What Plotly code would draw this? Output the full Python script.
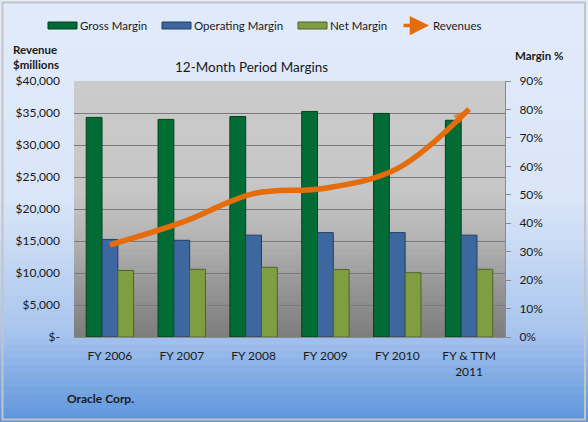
import plotly.graph_objects as go

categories = ["FY 2006", "FY 2007", "FY 2008", "FY 2009", "FY 2010", "FY & TTM<br>2011"]
gross_margin = [0.772, 0.765, 0.775, 0.793, 0.786, 0.762]
operating_margin = [0.343, 0.340, 0.358, 0.367, 0.367, 0.358]
net_margin = [0.234, 0.238, 0.245, 0.237, 0.226, 0.238]
revenues = [14380, 17900, 22400, 23250, 26300, 35600]

rev_ticks = [0, 5000, 10000, 15000, 20000, 25000, 30000, 35000, 40000]
rev_ticktext = ["$-", "$5,000", "$10,000", "$15,000", "$20,000", "$25,000", "$30,000", "$35,000", "$40,000"]
pct_ticks = [0, 0.1, 0.2, 0.3, 0.4, 0.5, 0.6, 0.7, 0.8, 0.9]

W, H = 588, 422
L, R, T, B = 74, 83, 81, 85
PW, PH = W - L - R, H - T - B

def px(x):
    return (x - L) / PW

def py(y):
    return (H - B - y) / PH

FONT = "Lato"
TXT = "#1a1a1a"

def hex2rgb(h):
    h = h.lstrip("#")
    return [int(h[i:i + 2], 16) for i in (0, 2, 4)]

def grad(stops, y0, y1, n):
    out = []
    for i in range(n):
        ya = y0 + (y1 - y0) * i / n
        yb = y0 + (y1 - y0) * (i + 1) / n
        ym = (ya + yb) / 2
        c = hex2rgb(stops[-1][1])
        for j in range(len(stops) - 1):
            if stops[j][0] <= ym <= stops[j + 1][0]:
                t = (ym - stops[j][0]) / (stops[j + 1][0] - stops[j][0])
                a, b = hex2rgb(stops[j][1]), hex2rgb(stops[j + 1][1])
                c = [round(a[k] + (b[k] - a[k]) * t) for k in range(3)]
                break
        out.append((ya, yb, "rgb(%d,%d,%d)" % tuple(c)))
    return out

shapes = []
for ya, yb, col in grad([(0, "#e2ebfb"), (200, "#d9e5f8"), (260, "#c3d7f3"),
                          (330, "#a9c5ee"), (422, "#5d94dc")], 0, 422, 60):
    shapes.append(dict(type="rect", xref="paper", yref="paper", x0=px(0), x1=px(588),
                       y0=py(yb) - 0.002, y1=py(ya), fillcolor=col, line_width=0, layer="below"))
for ya, yb, col in grad([(81, "#cbcbcb"), (190, "#c6c6c6"), (240, "#b3b3b3"),
                          (290, "#949494"), (337, "#7d7d7d")], 81, 337, 50):
    shapes.append(dict(type="rect", xref="paper", yref="paper", x0=0, x1=1,
                       y0=py(yb) - 0.002, y1=py(ya), fillcolor=col, line_width=0, layer="below"))
shapes.append(dict(type="rect", xref="paper", yref="paper", x0=px(2.5), x1=px(585),
                   y0=py(419.5), y1=py(2.5), line=dict(color="#c4c4c4", width=2), layer="above"))

colors = ["#036b34", "#3c679f", "#7f9d41"]
edges = ["#02431f", "#243f63", "#4f6328"]
names = ["Gross Margin", "Operating Margin", "Net Margin"]

annotations = []
leg_x = [48, 162, 298]
for xs, col, ed, nm in zip(leg_x, colors, edges, names):
    shapes.append(dict(type="rect", xref="paper", yref="paper", x0=px(xs), x1=px(xs + 29),
                       y0=py(29), y1=py(22), fillcolor=col, line=dict(color=ed, width=1)))
    annotations.append(dict(text=nm, xref="paper", yref="paper", x=px(xs + 30), y=py(25.5),
                            xanchor="left", yanchor="middle", showarrow=False,
                            font=dict(family=FONT, size=11.5, color=TXT)))
annotations.append(dict(text="", xref="paper", yref="paper", x=px(429), y=py(25.5),
                        ax=-27, ay=0, axref="pixel", ayref="pixel",
                        showarrow=True, arrowhead=2, arrowsize=1.1, arrowwidth=3.5,
                        arrowcolor="#e46c0a"))
annotations.append(dict(text="Revenues", xref="paper", yref="paper", x=px(431), y=py(25.5),
                        xanchor="left", yanchor="middle", showarrow=False,
                        font=dict(family=FONT, size=11.5, color=TXT)))
annotations += [
    dict(text="<b>Revenue<br>$millions</b>", xref="paper", yref="paper", x=px(11), y=py(73),
         xanchor="left", yanchor="bottom", align="left", showarrow=False,
         font=dict(family=FONT, size=11.5, color=TXT)),
    dict(text="<b>Margin %</b>", xref="paper", yref="paper", x=px(513), y=py(55),
         xanchor="left", yanchor="middle", showarrow=False,
         font=dict(family=FONT, size=11.5, color=TXT)),
    dict(text="12-Month Period Margins", xref="paper", yref="paper", x=px(251), y=py(67),
         xanchor="center", yanchor="middle", showarrow=False,
         font=dict(family=FONT, size=13.5, color=TXT)),
    dict(text="<b>Oracle Corp.</b>", xref="paper", yref="paper", x=px(65), y=py(398),
         xanchor="left", yanchor="middle", showarrow=False,
         font=dict(family=FONT, size=12, color=TXT)),
]

fig = go.Figure()
for vals, col, ed, nm in zip([gross_margin, operating_margin, net_margin], colors, edges, names):
    fig.add_trace(go.Bar(x=categories, y=vals, name=nm, yaxis="y",
                         marker=dict(color=col, line=dict(color=ed, width=1)),
                         showlegend=False))

fig.add_trace(go.Scatter(x=categories, y=revenues, name="Revenues", yaxis="y2",
                         mode="lines+markers",
                         line=dict(color="#e46c0a", width=5.5, shape="spline", smoothing=1.0),
                         marker=dict(symbol="arrow", angleref="previous",
                                     size=[0] * (len(revenues) - 1) + [17],
                                     color="#e46c0a", line=dict(width=0)),
                         showlegend=False))

fig.update_layout(
    width=W, height=H,
    margin=dict(l=L, r=R, t=T, b=B),
    paper_bgcolor="#dfe9fa",
    plot_bgcolor="rgba(0,0,0,0)",
    barmode="group", bargap=0.34, bargroupgap=0,
    showlegend=False,
    font=dict(family=FONT, size=12, color=TXT),
    shapes=shapes,
    annotations=annotations,
    xaxis=dict(showgrid=False, showline=True, linecolor="#8a8a8a", linewidth=1,
               ticks="", ticklabelstandoff=8,
               tickfont=dict(family=FONT, size=12, color=TXT), fixedrange=True),
    yaxis=dict(side="right", range=[0, 0.9], tickvals=pct_ticks, tickformat=".0%",
               showgrid=False, showline=True, linecolor="#8a8a8a", linewidth=1,
               ticks="outside", ticklen=5, tickcolor="#8a8a8a", zeroline=False,
               ticklabelstandoff=6,
               minor=dict(tickmode="array", tickvals=[v / 40000 * 0.9 for v in rev_ticks],
                          showgrid=True, gridcolor="#7a7a7a", gridwidth=1, ticks=""),
               tickfont=dict(family=FONT, size=12, color=TXT)),
    yaxis2=dict(side="left", overlaying="y", range=[0, 40000], tickvals=rev_ticks,
                ticktext=rev_ticktext, showgrid=False, zeroline=False, showline=False,
                ticks="", ticklabelstandoff=13,
                tickfont=dict(family=FONT, size=12, color=TXT)),
)

fig.write_html("out.html", config={"displayModeBar": False})
with open("out.html", "r", encoding="utf-8") as f:
    html = f.read()
html = html.replace("<head>", "<head><style>html,body{margin:0;padding:0;overflow:hidden;}</style>", 1)
with open("out.html", "w", encoding="utf-8") as f:
    f.write(html)
